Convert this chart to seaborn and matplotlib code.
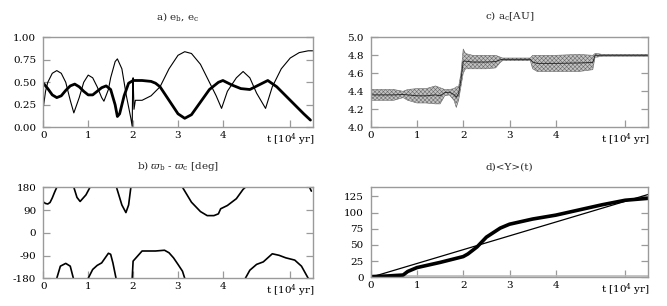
import numpy as np
import pandas as pd
import matplotlib
matplotlib.use("Agg")
import matplotlib.pyplot as plt
import seaborn as sns

# ---------------- data ----------------
# a) eccentricities
t_eb = [0, 0.1, 0.2, 0.3, 0.4, 0.5, 0.6, 0.7, 0.8, 0.9, 1.0, 1.1, 1.2, 1.3, 1.4, 1.5,
        1.6, 1.65, 1.7, 1.8, 1.9, 2.0, 2.2, 2.4, 2.5, 2.6, 2.8, 3.0, 3.15, 3.3, 3.5,
        3.7, 3.9, 4.0, 4.2, 4.4, 4.6, 4.8, 5.0, 5.2, 5.4, 5.6, 5.8, 5.95]
e_b = [0.49, 0.43, 0.36, 0.33, 0.35, 0.41, 0.46, 0.48, 0.45, 0.40, 0.36, 0.36, 0.40,
       0.44, 0.46, 0.42, 0.25, 0.12, 0.15, 0.35, 0.49, 0.52, 0.52, 0.51, 0.49, 0.45,
       0.30, 0.15, 0.10, 0.14, 0.28, 0.42, 0.50, 0.52, 0.47, 0.43, 0.42, 0.47, 0.52,
       0.45, 0.35, 0.25, 0.15, 0.08]
t_ec = [0, 0.05, 0.1, 0.2, 0.3, 0.4, 0.5, 0.6, 0.68, 0.8, 0.9, 1.0, 1.1, 1.2, 1.3,
        1.35, 1.45, 1.5, 1.6, 1.65, 1.75, 1.85, 1.95, 1.98, 1.99, 2.0, 2.02, 2.05,
        2.2, 2.4, 2.6, 2.8, 3.0, 3.15, 3.3, 3.5, 3.7, 3.85, 3.97, 4.1, 4.3, 4.45,
        4.6, 4.75, 4.95, 5.1, 5.3, 5.5, 5.7, 5.9, 6.0]
e_c = [0.22, 0.40, 0.50, 0.60, 0.63, 0.60, 0.50, 0.30, 0.16, 0.33, 0.50, 0.58, 0.55,
       0.45, 0.33, 0.29, 0.42, 0.55, 0.73, 0.76, 0.65, 0.35, 0.10, 0.01, 0.45, 0.55,
       0.20, 0.30, 0.30, 0.35, 0.45, 0.65, 0.80, 0.84, 0.82, 0.70, 0.50, 0.35, 0.21,
       0.40, 0.55, 0.62, 0.55, 0.38, 0.21, 0.45, 0.65, 0.77, 0.83, 0.85, 0.85]

# b) difference of longitudes of pericentre (segments wrap at +-180)
dw_seg = [1]*7 + [2]*5 + [3]*5 + [4]*11 + [5]*5 + [6]*8 + [7]*11 + [8]*11 + [9]*2
dw_t = [0, 0.05, 0.1, 0.15, 0.2, 0.25, 0.3,
        0.68, 0.75, 0.82, 0.95, 1.04,
        1.63, 1.75, 1.84, 1.9, 1.95,
        3.1, 3.3, 3.5, 3.65, 3.8, 3.9, 3.95, 4.1, 4.3, 4.45, 4.5,
        0.3, 0.38, 0.5, 0.6, 0.67,
        1.0, 1.1, 1.2, 1.3, 1.45, 1.5, 1.55, 1.62,
        1.98, 2.0, 2.1, 2.2, 2.5, 2.7, 2.8, 2.9, 3.0, 3.1, 3.15,
        4.5, 4.6, 4.75, 4.9, 5.0, 5.1, 5.25, 5.4, 5.6, 5.75, 5.9,
        5.93, 5.97]
dw = [122, 116, 114, 120, 138, 160, 180,
      180, 140, 124, 150, 180,
      180, 110, 80, 110, 180,
      180, 121, 84, 68, 68, 75, 95, 108, 135, 172, 180,
      -180, -132, -121, -132, -180,
      -180, -145, -129, -119, -81, -85, -119, -180,
      -180, -112, -92, -72, -72, -69, -79, -99, -125, -152, -180,
      -180, -148, -125, -115, -99, -83, -89, -99, -108, -132, -180,
      180, 165]

# c) semi-major axis a_c : envelope of the oscillation band
t_ac = [0, 0.5, 0.7, 0.8, 1.0, 1.2, 1.4, 1.5, 1.6, 1.7, 1.8, 1.85, 1.9, 1.95, 2.0,
        2.05, 2.2, 2.5, 2.7, 2.8, 2.85, 3.0, 3.3, 3.45, 3.5, 3.6, 4.0, 4.5, 4.8,
        4.85, 4.9, 5.0, 5.5, 6.0]
ac_hi = [4.42, 4.42, 4.40, 4.42, 4.43, 4.43, 4.46, 4.44, 4.42, 4.42, 4.43, 4.45,
         4.45, 4.60, 4.87, 4.82, 4.80, 4.80, 4.80, 4.78, 4.77, 4.77, 4.77, 4.77,
         4.80, 4.80, 4.80, 4.81, 4.80, 4.82, 4.82, 4.81, 4.81, 4.81]
ac_lo = [4.30, 4.30, 4.33, 4.30, 4.27, 4.27, 4.26, 4.26, 4.35, 4.36, 4.30, 4.22,
         4.30, 4.45, 4.60, 4.65, 4.65, 4.65, 4.66, 4.72, 4.74, 4.74, 4.74, 4.74,
         4.65, 4.62, 4.62, 4.62, 4.64, 4.78, 4.78, 4.79, 4.79, 4.79]

# d) <Y>(t)
t_y = [0, 0.35, 0.7, 0.8, 1.0, 1.5, 2.0, 2.1, 2.3, 2.5, 2.8, 3.0, 3.5, 4.0, 4.5,
       5.0, 5.5, 6.0]
y_mean = [1, 2, 3.5, 9, 15, 23, 32, 36, 47, 62, 76, 82, 90, 96, 104, 112, 119, 122]
t_fit = [0, 6]
y_fit = [0, 128]
t_base = [0, 6]
y_base = [2, 2]

xtick_vals = [0, 1, 2, 3, 4, 5.5]
xtick_labels = ["0", "1", "2", "3", "4", r"t [10$^4$ yr]"]

# ---------------- style ----------------
sns.set_theme(style="white")
plt.rcParams["font.family"] = ["DejaVu Serif"]
plt.rcParams["mathtext.fontset"] = "dejavuserif"
plt.rcParams["hatch.linewidth"] = 0.4
plt.rcParams["hatch.color"] = "#444444"
FS = 7.5
SPINE = "#9a9a9a"

fig = plt.figure(figsize=(6.67, 3.06), dpi=100)
W, H = 667, 306


def make_ax(l, r, t, b):
    return fig.add_axes([l / W, 1 - b / H, (r - l) / W, (b - t) / H])


ax_a = make_ax(43.3, 312.7, 37.3, 127.3)
ax_c = make_ax(370.7, 648.3, 37.3, 127.3)
ax_b = make_ax(43.3, 312.7, 187.3, 278.3)
ax_d = make_ax(370.7, 648.3, 187.3, 277.3)


def style(ax, yticks, ylabels, ylim, title):
    ax.set_xlim(0, 6)
    ax.set_ylim(*ylim)
    ax.set_xticks(xtick_vals)
    ax.set_xticklabels(xtick_labels)
    ax.set_yticks(yticks)
    ax.set_yticklabels(ylabels)
    for s in ax.spines.values():
        s.set_color(SPINE)
        s.set_linewidth(1.0)
    ax.tick_params(axis="both", direction="in", length=5, width=0.9, color=SPINE,
                   labelsize=FS, labelcolor="black")
    ax.tick_params(axis="y", left=True, right=True, pad=5)
    ax.tick_params(axis="x", bottom=True, top=False, pad=3)
    ax.set_xlabel("")
    ax.set_ylabel("")
    ax.set_title(title, fontsize=FS, pad=13)


# a)
sns.lineplot(x=t_ec, y=e_c, ax=ax_a, color="black", linewidth=0.8, sort=False)
sns.lineplot(x=t_eb, y=e_b, ax=ax_a, color="black", linewidth=2.0, sort=False)
style(ax_a, [0, 0.25, 0.5, 0.75, 1.0], ["0.00", "0.25", "0.50", "0.75", "1.00"],
      (0, 1), r"a) e$_\mathrm{b}$, e$_\mathrm{c}$")

# b)
df_b = pd.DataFrame({"t": dw_t, "dw": dw, "seg": dw_seg})
sns.lineplot(data=df_b, x="t", y="dw", units="seg", estimator=None, ax=ax_b,
             color="black", linewidth=1.2, sort=False)
style(ax_b, [-180, -90, 0, 90, 180], ["-180", "-90", "0", "90", "180"],
      (-180, 180), r"b) $\varpi_\mathrm{b}$ - $\varpi_\mathrm{c}$ [deg]")

# c)
ax_c.fill_between(t_ac, ac_lo, ac_hi, facecolor="#c4c4c4", edgecolor="#6a6a6a",
                  hatch="xxxxxxxx", linewidth=0.4)
mid = [(h + l) / 2 for h, l in zip(ac_hi, ac_lo)]
sns.lineplot(x=t_ac, y=mid, ax=ax_c, color="#2a2a2a", linewidth=0.7, sort=False)
style(ax_c, [4.0, 4.2, 4.4, 4.6, 4.8, 5.0], ["4.0", "4.2", "4.4", "4.6", "4.8", "5.0"],
      (4.0, 5.0), r"c) a$_\mathrm{c}$[AU]")

# d)
sns.lineplot(x=t_base, y=y_base, ax=ax_d, color="#bbbbbb", linewidth=1.2)
sns.lineplot(x=t_fit, y=y_fit, ax=ax_d, color="black", linewidth=0.9)
sns.lineplot(x=t_y, y=y_mean, ax=ax_d, color="black", linewidth=2.6, sort=False)
style(ax_d, [0, 25, 50, 75, 100, 125], ["0", "25", "50", "75", "100", "125"],
      (0, 139), "d)<Y>(t)")

fig.savefig("out.png", dpi=100)
